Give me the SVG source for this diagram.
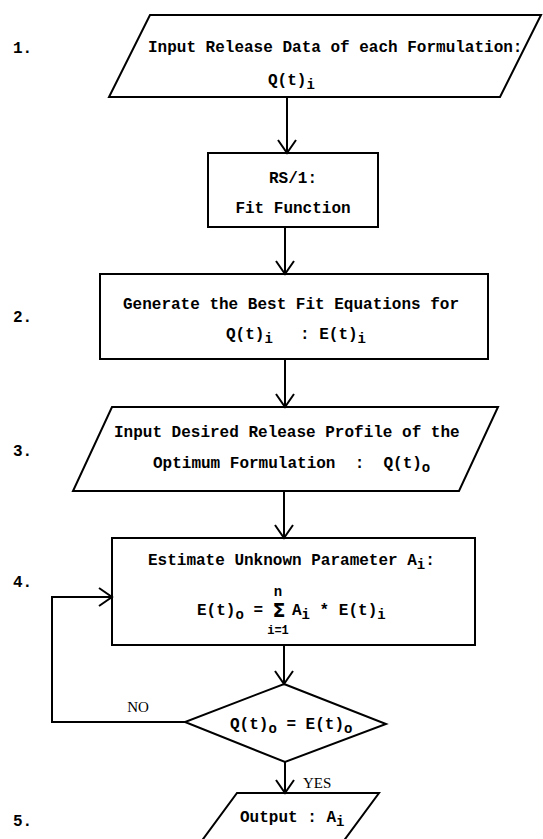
<svg xmlns="http://www.w3.org/2000/svg" width="543" height="839" viewBox="0 0 543 839">
<style>
.s{fill:none;stroke:#000;stroke-width:2;stroke-linejoin:miter}
.c{fill:none;stroke:#000;stroke-width:2}
.t{font-family:"Liberation Mono","Courier New",monospace;font-size:16px;font-weight:bold;fill:#000;white-space:pre}
.sub{font-size:14px}
.l{font-family:"Liberation Serif","Times New Roman",serif;font-size:15px;fill:#000}
</style>
<defs>
<marker id="v" markerUnits="userSpaceOnUse" markerWidth="30" markerHeight="30" refX="0" refY="0" viewBox="-15 -15 30 30" orient="auto" overflow="visible">
<path d="M-13,-9 L0,0 L-13,9" fill="none" stroke="#000" stroke-width="2"/>
</marker>
</defs>
<rect width="543" height="839" fill="#fff"/>
<g id="labels">
<text class="t" x="13" y="53">1.</text>
<text class="t" x="13" y="322">2.</text>
<text class="t" x="13" y="456">3.</text>
<text class="t" x="13" y="587">4.</text>
<text class="t" x="13" y="826">5.</text>
</g>
<g id="n1">
<polygon class="s" points="150,15 541,15 500,97 109,97"/>
<text class="t" x="148" y="52">Input Release Data of each Formulation:</text>
<text class="t" x="268" y="85">Q(t)<tspan class="sub" dy="4">i</tspan></text>
</g>
<g id="n2">
<rect class="s" x="208" y="153" width="170" height="74"/>
<text class="t" x="293" y="183" text-anchor="middle">RS/1:</text>
<text class="t" x="293" y="213" text-anchor="middle">Fit Function</text>
</g>
<g id="n3">
<rect class="s" x="100" y="274" width="388" height="85"/>
<text class="t" x="123" y="309">Generate the Best Fit Equations for</text>
<text class="t" x="226" y="339">Q(t)<tspan class="sub" dy="4">i</tspan></text>
<text class="t" x="300" y="339">: E(t)<tspan class="sub" dy="4">i</tspan></text>
</g>
<g id="n4">
<polygon class="s" points="112,407 498,407 459,491 73,491"/>
<text class="t" x="114" y="437">Input Desired Release Profile of the</text>
<text class="t" x="153" y="468">Optimum Formulation  :  Q(t)<tspan class="sub" dy="4">o</tspan></text>
</g>
<g id="n5">
<rect class="s" x="112" y="538" width="363" height="107"/>
<text class="t" x="148" y="565">Estimate Unknown Parameter A<tspan class="sub" dy="4">i</tspan><tspan dy="-4">:</tspan></text>
<text class="t" x="197" y="615">E(t)<tspan class="sub" dy="4">o</tspan><tspan dy="-4"> =</tspan></text>
<text x="279" y="617" text-anchor="middle" style="font-family:'DejaVu Sans',sans-serif;font-size:19px;font-weight:bold">Σ</text>
<text class="t sub" x="278" y="596" text-anchor="middle">n</text>
<text class="t" x="278" y="634" text-anchor="middle" style="font-size:12px">i=1</text>
<text class="t" x="292" y="615">A<tspan class="sub" dy="4">i</tspan><tspan dy="-4"> * E(t)</tspan><tspan class="sub" dy="4">i</tspan></text>
</g>
<g id="n6">
<polygon class="s" points="284,684 386,724 285,762 185,722"/>
<text class="t" x="230" y="729">Q(t)<tspan class="sub" dy="4">o</tspan><tspan dy="-4"> = E(t)</tspan><tspan class="sub" dy="4">o</tspan></text>
</g>
<g id="n7">
<polygon class="s" points="237,793 379,793 337,850 195,850"/>
<text class="t" x="240" y="822">Output : A<tspan class="sub" dy="4">i</tspan></text>
</g>
<g id="connectors">
<line class="c" x1="287" y1="97" x2="287" y2="153" marker-end="url(#v)"/>
<line class="c" x1="285" y1="227" x2="285" y2="274" marker-end="url(#v)"/>
<line class="c" x1="285" y1="359" x2="285" y2="407" marker-end="url(#v)"/>
<line class="c" x1="284" y1="491" x2="284" y2="538" marker-end="url(#v)"/>
<line class="c" x1="284" y1="645" x2="284" y2="684" marker-end="url(#v)"/>
<line class="c" x1="285" y1="762" x2="285" y2="793" marker-end="url(#v)"/>
<polyline class="c" points="185,722 52,722 52,597 112,597" marker-end="url(#v)"/>
<text class="l" x="138" y="712" text-anchor="middle">NO</text>
<text class="l" x="303" y="788">YES</text>
</g>
</svg>
